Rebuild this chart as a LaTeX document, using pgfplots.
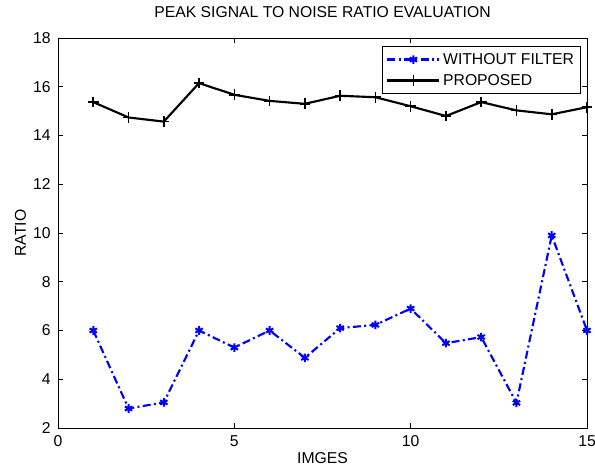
\documentclass[border=0pt]{standalone}
\usepackage{fontspec}
\setmainfont{Liberation Sans}
\usepackage{pgfplots}
\pgfplotsset{compat=1.18}
\begin{document}
\begin{tikzpicture}
\begin{axis}[
  scale only axis,
  width=396.75pt, height=292.5pt,
  xmin=0, xmax=15, ymin=2, ymax=18,
  xtick={0,5,10,15}, ytick={2,4,6,8,10,12,14,16,18},
  tick align=inside, xtick pos=both, ytick pos=both,
  major tick length=3.75pt,
  axis line style={line width=0.6pt},
  every tick/.style={line width=0.5pt, black},
  font=\fontsize{11.8}{14}\selectfont,
  /pgf/number format/assume math mode=true,
  title={PEAK SIGNAL TO NOISE RATIO EVALUATION},
  title style={at={(axis description cs:0.5,1)}, anchor=base, yshift=9pt, inner sep=0pt},
  xlabel={IMGES},
  xlabel style={at={(axis description cs:0.5,0)}, anchor=base, yshift=-26.25pt, inner sep=0pt},
  ylabel={RATIO},
  ylabel style={at={(axis description cs:-0.0605,0.5)}, anchor=base, rotate=0, inner sep=0pt},
  xticklabel style={anchor=base, inner sep=0pt, yshift=-13.5pt},
  yticklabel style={anchor=east, inner sep=0pt, xshift=-5.25pt},
  legend style={at={(axis description cs:0.9887,0.9795)}, anchor=north east,
    draw=black, line width=0.6pt, inner xsep=3pt, inner ysep=3pt,
    font=\fontsize{11.8}{14}\selectfont, row sep=2pt,
    cells={anchor=west}},
  legend image code/.code={%
    \draw[mark repeat=2,mark phase=2] plot coordinates {(0pt,0pt) (19.5pt,0pt) (39pt,0pt)};},
  legend cell align=left,
]
\addplot[color={rgb,255:red,0;green,0;blue,255}, line width=1.6pt,
  dash pattern=on 6pt off 2.5pt on 1.5pt off 2.5pt,
  mark=asterisk, mark size=3.2pt, mark options={solid, line width=1.5pt}]
  coordinates {
  (1,6.0) (2,2.8) (3,3.05) (4,6.0) (5,5.3) (6,6.0) (7,4.88) (8,6.1)
  (9,6.23) (10,6.9) (11,5.48) (12,5.73) (13,3.03) (14,9.9) (15,6.0)};
\addlegendentry{WITHOUT FILTER}
\addplot[black, line width=1.6pt, mark=+, mark size=4pt, mark options={line width=1.2pt}]
  coordinates {
  (1,15.37) (2,14.74) (3,14.57) (4,16.15) (5,15.67) (6,15.42) (7,15.3) (8,15.63)
  (9,15.57) (10,15.2) (11,14.8) (12,15.37) (13,15.03) (14,14.87) (15,15.16)};
\addlegendentry{PROPOSED}
\end{axis}
\pgfresetboundingbox
\path[use as bounding box] ([shift={(-43.5pt,-27.75pt)}]current axis.south west) rectangle ([shift={(402.75pt,321pt)}]current axis.south west);
\end{tikzpicture}
\end{document}
